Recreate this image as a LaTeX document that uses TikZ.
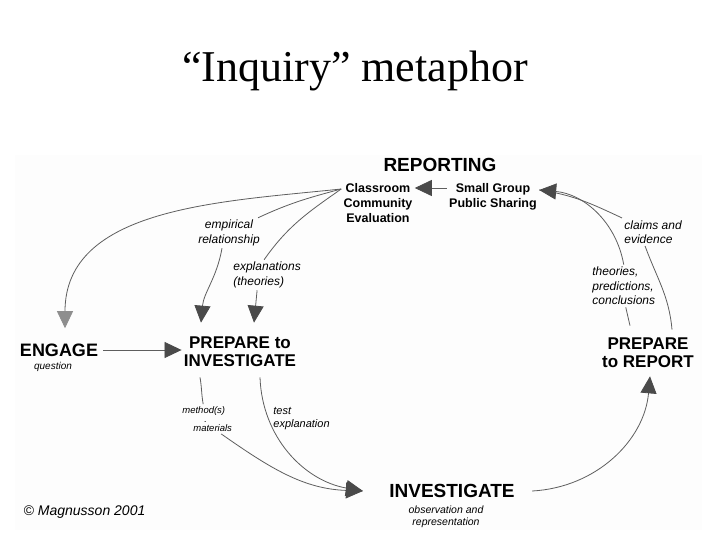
\documentclass[tikz,border=0pt]{standalone}
\usepackage{fontspec}
\setmainfont{Liberation Serif}
\setsansfont{Liberation Sans}
\usetikzlibrary{arrows.meta, positioning, calc}
\definecolor{cline}{HTML}{5E5E5E}
\definecolor{ctip}{HTML}{4A4A4A}
\definecolor{clight}{HTML}{8E8E8E}
\definecolor{cpaper}{HTML}{FDFDFD}
\tikzset{
  every picture/.style={font=\sffamily, line width=0.8pt},
  stage/.style={font=\sffamily\bfseries\fontsize{17}{18}\selectfont, align=center, inner sep=2pt},
  forum/.style={font=\sffamily\bfseries\fontsize{12.5}{15}\selectfont, align=center, inner sep=2pt},
  note/.style={font=\sffamily\itshape\fontsize{12}{14.5}\selectfont, align=left, inner sep=2pt},
  smallnote/.style={font=\sffamily\itshape\fontsize{10}{12}\selectfont, align=center, inner sep=2pt},
  link/.style={draw=cline, line width=0.8pt},
  arrow/.style={link, -{Triangle[length=17pt, width=16pt, color=ctip]}},
  lightarrow/.style={link, -{Triangle[length=17pt, width=16pt, color=clight]}},
}

\begin{document}
\begin{tikzpicture}[x=1pt, y=-1pt]
  \useasboundingbox (0,0) rectangle (720,540);
  \fill[cpaper] (15,155) rectangle (702,530);
  \node[font=\rmfamily\fontsize{44}{50}\selectfont, anchor=base] (title) at (355,82) {“Inquiry” metaphor};

  % stages of the cycle
  \node[stage, font=\sffamily\bfseries\fontsize{19}{20}\selectfont] (reporting) at (440,165) {REPORTING};
  \node[forum] (classroom) at (378,203) {Classroom\\Community\\Evaluation};
  \node[forum] (smallgroup) at (493,197) {Small Group\\Public Sharing};
  \node[stage, font=\sffamily\bfseries\fontsize{18}{19}\selectfont] (engage) at (59,350) {ENGAGE};
  \node[smallnote] (question) at (53,367) {question};
  \node[stage] (prepinv) at (240,352) {PREPARE to\\INVESTIGATE};
  \node[stage, font=\sffamily\bfseries\fontsize{19}{20}\selectfont] (investigate) at (452,491) {INVESTIGATE};
  \node[smallnote, font=\sffamily\itshape\fontsize{10.5}{12.5}\selectfont] (observation) at (446,517) {observation and\\representation};
  \node[stage] (prepreport) at (648,353) {PREPARE\\to REPORT};

  % labels on the links
  \node[note, align=center] (emp) at (229,233) {empirical\\relationship};
  \node[note, anchor=west] (expl) at (231,275) {explanations\\(theories)};
  \node[note, anchor=west] (claims) at (622,232) {claims and\\evidence};
  \node[note, anchor=west] (theories) at (590,286) {theories,\\predictions,\\conclusions};
  \node[note, anchor=west, font=\sffamily\itshape\fontsize{9.5}{9}\selectfont] (method) at (180,419) {method(s)\\\hspace*{22pt}.\\\hspace*{11pt}materials};
  \node[note, anchor=west, font=\sffamily\itshape\fontsize{11}{13}\selectfont] (test) at (271,419) {test\\explanation};
  \node[font=\sffamily\itshape\fontsize{14}{16}\selectfont, anchor=west] (credit) at (20,512) {© Magnusson 2001};

  % reporting links
  \draw[arrow] ([yshift=9pt]smallgroup.west) -- ([yshift=9pt]smallgroup.west -| classroom.east);
  \draw[link] (claims.north west) to[out=155, in=-8] ([yshift=7pt]smallgroup.east);
  \draw[arrow] (theories.north) to[out=100, in=-5] ([yshift=7pt]smallgroup.east);
  \draw[link] ([xshift=2pt]theories.south) -- ([xshift=-18pt,yshift=10pt]prepreport.north);
  \draw[link] ([xshift=-8pt]claims.south) to[out=-70, in=95] ([xshift=24pt,yshift=6pt]prepreport.north);

  % feedback from the classroom
  \draw[lightarrow] ([yshift=14pt]classroom.west) to[out=186, in=90] ([xshift=6pt,yshift=13pt]engage.north);
  \draw[link] ([yshift=14pt]classroom.west) to[out=195, in=25] ([xshift=-4pt]emp.north east);
  \draw[arrow] ([xshift=-7pt]emp.south) to[out=-100, in=85] ([xshift=-39pt,yshift=12pt]prepinv.north);
  \draw[link] ([yshift=14pt]classroom.west) to[out=215, in=55] ([xshift=-3pt]expl.north);
  \draw[arrow] ([xshift=-10pt]expl.south) -- ([xshift=14pt,yshift=12pt]prepinv.north);

  % investigation links
  \draw[arrow] ([xshift=3pt]engage.east) -- (engage.east -| prepinv.west);
  \draw[link] ([xshift=-40pt,yshift=-8pt]prepinv.south) to[out=-80, in=100] ([xshift=-4pt]method.north);
  \draw[arrow] ([xshift=14pt]method.south) to[out=-35, in=178] ([xshift=-24pt]investigate.west);
  \draw[arrow] ([xshift=20pt,yshift=-8pt]prepinv.south) to[out=-88, in=170] ([xshift=-24pt]investigate.west);
  \draw[arrow] ([xshift=15pt]investigate.east) to[out=3, in=-95] ([xshift=2pt,yshift=-6pt]prepreport.south);
\end{tikzpicture}
\end{document}
